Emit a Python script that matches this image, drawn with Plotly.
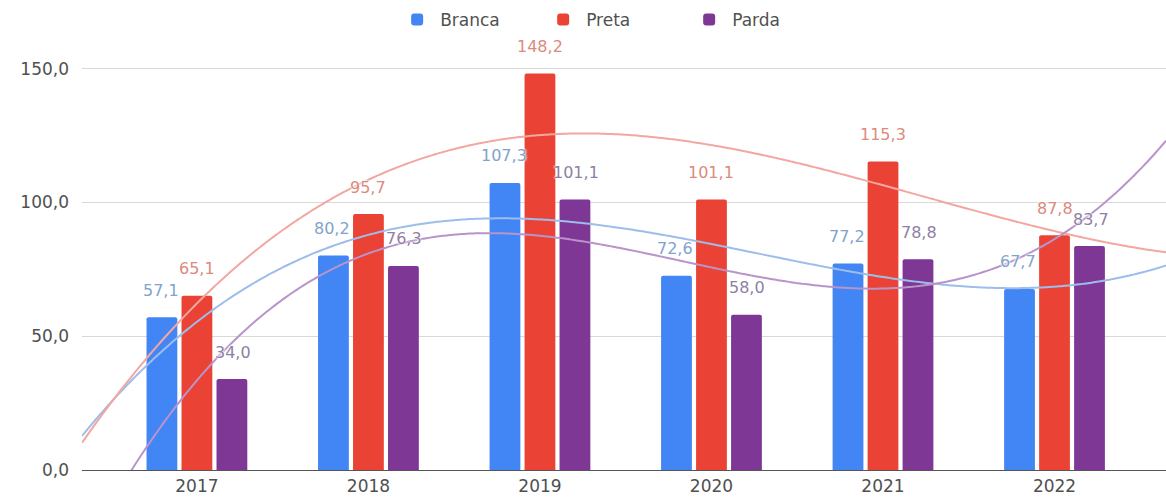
import numpy as np
import plotly.graph_objects as go

# Data
years = ["2017", "2018", "2019", "2020", "2021", "2022"]
branca = [57.1, 80.2, 107.3, 72.6, 77.2, 67.7]
preta = [65.1, 95.7, 148.2, 101.1, 115.3, 87.8]
parda = [34.0, 76.3, 101.1, 58.0, 78.8, 83.7]
y_ticks = [0, 50, 100, 150]

FONT = "DejaVu Sans, Verdana, sans-serif"

series = [
    ("Branca", branca, "#4285F4", "#9DBDEB", "#7FA3CC", -0.21),
    ("Preta", preta, "#EA4335", "#F2A7A0", "#DC8A7C", 0.0),
    ("Parda", parda, "#7E3794", "#B994CB", "#8F7FA6", 0.21),
]

x_idx = np.arange(len(years))
x_min, x_max = -0.67, 5.65

fig = go.Figure()

for name, vals, col, _, _, _ in series:
    fig.add_trace(go.Bar(
        x=x_idx, y=vals, name=name, marker=dict(color=col, line=dict(width=0)),
        hoverinfo="skip",
    ))

# Polynomial (degree 3) trend lines for each series
xs = np.linspace(x_min, x_max, 300)
for name, vals, _, tcol, _, _ in series:
    coef = np.polyfit(x_idx, vals, 3)
    fig.add_trace(go.Scatter(
        x=xs, y=np.polyval(coef, xs), mode="lines", showlegend=False,
        line=dict(color=tcol, width=2, shape="spline"), hoverinfo="skip",
    ))

# Value labels above each bar, with a white halo
annotations = []
for name, vals, _, _, lcol, off in series:
    for i, v in enumerate(vals):
        annotations.append(dict(
            x=i + off, y=v, xref="x", yref="y",
            text=f"{v:.1f}".replace(".", ","), showarrow=False,
            yanchor="middle", yshift=27,
            font=dict(family=FONT, size=16, color=lcol,
                      shadow="0 0 2px white, 0 0 2px white, 0 0 3px white"),
        ))

fig.update_layout(
    width=1166, height=498,
    margin=dict(l=82, r=0, t=42, b=28),
    paper_bgcolor="white", plot_bgcolor="white",
    barmode="group", bargap=0.388, bargroupgap=0.12, barcornerradius=2,
    separators=",.",
    font=dict(family=FONT, size=17, color="#505050"),
    legend=dict(
        orientation="h", x=0.49, xanchor="center", y=0.96, yanchor="middle",
        yref="container", font=dict(family=FONT, size=17, color="#505050"),
        traceorder="normal", itemwidth=36, entrywidth=95,
    ),
    annotations=annotations,
    xaxis=dict(
        range=[x_min, x_max], tickmode="array", tickvals=list(x_idx), ticktext=years,
        showgrid=False, zeroline=False, showline=False, ticks="",
        ticklabelstandoff=4, tickfont=dict(family=FONT, size=17, color="#505050"),
    ),
    yaxis=dict(
        range=[0, 160], tickmode="array", tickvals=y_ticks, tickformat=".1f",
        showgrid=True, gridcolor="#D9D9D9", gridwidth=1,
        zeroline=True, zerolinecolor="#555555", zerolinewidth=1,
        ticks="", ticklabelstandoff=12,
        tickfont=dict(family=FONT, size=17, color="#505050"),
    ),
)

fig.write_html("out.html")
